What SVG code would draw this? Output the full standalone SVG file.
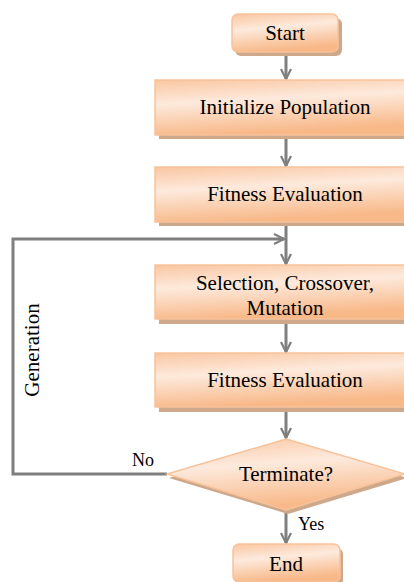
<svg xmlns="http://www.w3.org/2000/svg" width="404" height="582" viewBox="0 0 404 582">
<defs>
<linearGradient id="g" x1="0" y1="0" x2="0.25" y2="1">
<stop offset="0" stop-color="#FAC6A0"/>
<stop offset="0.42" stop-color="#FDEADD"/>
<stop offset="1" stop-color="#F8B888"/>
</linearGradient>
<marker id="ah" viewBox="0 0 12 12" refX="11" refY="6" markerWidth="12" markerHeight="12" markerUnits="userSpaceOnUse" orient="auto">
<path d="M1,1 L11,6 L1,11" fill="none" stroke="#7F7F7F" stroke-width="2.2" stroke-linejoin="miter"/>
</marker>
</defs>
<style>
.box{fill:url(#g);stroke:#F7C29A;stroke-width:1.5}
.sh{fill:#CDA88B}
.t{font-family:"Liberation Serif","Times New Roman",serif;font-size:21px;fill:#000;text-anchor:middle}
.lb{font-family:"Liberation Serif","Times New Roman",serif;font-size:18px;fill:#000}
.c{fill:none;stroke:#7F7F7F;stroke-width:3}
</style>
<g id="connectors">
<line class="c" x1="286" y1="54" x2="286" y2="79" marker-end="url(#ah)"/>
<line class="c" x1="286" y1="139" x2="286" y2="166" marker-end="url(#ah)"/>
<line class="c" x1="286" y1="226" x2="286" y2="264" marker-end="url(#ah)"/>
<line class="c" x1="286" y1="324" x2="286" y2="352" marker-end="url(#ah)"/>
<line class="c" x1="286" y1="412" x2="286" y2="438" marker-end="url(#ah)"/>
<line class="c" x1="286" y1="512" x2="286" y2="543" marker-end="url(#ah)"/>
<polyline class="c" points="167,474 13,474 13,239 284,239" marker-end="url(#ah)"/>
<text class="lb" x="132" y="466">No</text>
<text class="lb" x="298" y="530">Yes</text>
<text class="t" transform="translate(39,350) rotate(-90)">Generation</text>
</g>
<g id="start">
<rect class="sh" x="235" y="18" width="107" height="38" rx="6"/>
<rect class="box" x="232" y="14" width="106" height="38" rx="6"/>
<text class="t" x="285" y="40">Start</text>
</g>
<g id="init">
<rect class="sh" x="159" y="84" width="262" height="55"/>
<rect class="box" x="155" y="80" width="262" height="55"/>
<text class="t" x="285" y="114">Initialize Population</text>
</g>
<g id="fitness1">
<rect class="sh" x="159" y="171" width="262" height="55"/>
<rect class="box" x="155" y="167" width="262" height="55"/>
<text class="t" x="285" y="201">Fitness Evaluation</text>
</g>
<g id="selection">
<rect class="sh" x="159" y="269" width="262" height="55"/>
<rect class="box" x="155" y="265" width="262" height="54"/>
<text class="t" x="285" y="290">Selection, Crossover,</text>
<text class="t" x="285" y="315">Mutation</text>
</g>
<g id="fitness2">
<rect class="sh" x="159" y="357" width="262" height="55"/>
<rect class="box" x="155" y="353" width="262" height="54"/>
<text class="t" x="285" y="387">Fitness Evaluation</text>
</g>
<g id="terminate">
<polygon class="sh" points="288,443 407,478 288,514 169,478"/>
<polygon class="box" points="286,439 405,474 286,510 167,474"/>
<text class="t" x="286" y="481">Terminate?</text>
</g>
<g id="end">
<rect class="sh" x="236" y="548" width="107" height="38" rx="6"/>
<rect class="box" x="233" y="544" width="107" height="38" rx="6"/>
<text class="t" x="286" y="571">End</text>
</g>
</svg>
